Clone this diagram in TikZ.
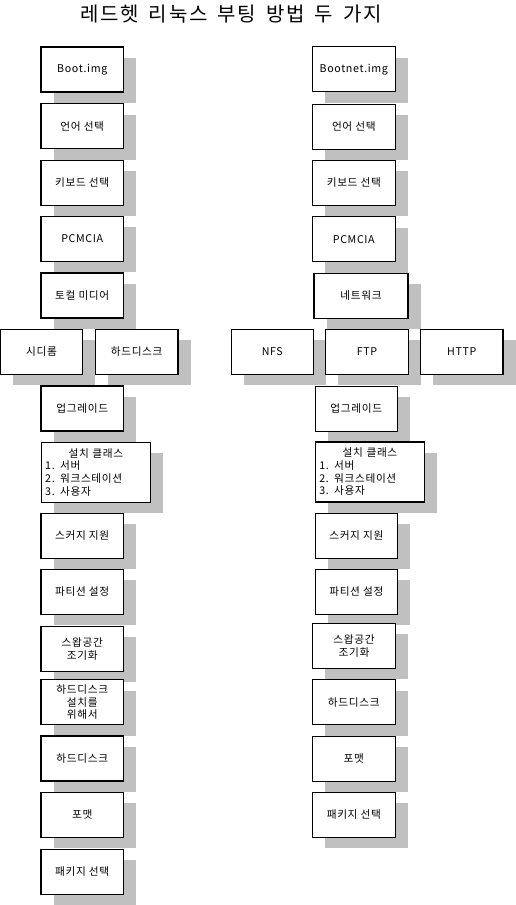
\documentclass[tikz,border=0pt]{standalone}
\usepackage{fontspec}
\usepackage{xcolor}
\usepackage{tikz}
\newfontfamily\kofont[LetterSpace=6]{Noto Sans CJK KR}
\newfontfamily\kotitle[LetterSpace=9]{Noto Sans CJK KR}
\usetikzlibrary{shadows}
\definecolor{shade}{RGB}{192,192,192}

\begin{document}
\begin{tikzpicture}[
  x=0.75pt, y=-0.75pt,
  card/.style  = {draw, line width=0.8pt, fill=white, minimum width=61.9pt, minimum height=33.75pt,
                  align=center, inner sep=1pt, font=\kofont\fontsize{8}{9.5}\selectfont,
                  drop shadow={shadow xshift=9.4pt, shadow yshift=-8.2pt, fill=shade, opacity=1}},
  wide/.style  = {card, minimum width=70.5pt},
  klass/.style = {card, minimum width=82pt, minimum height=45pt, text width=76pt, align=left},
  ttl/.style   = {font=\kotitle\fontsize{15}{18}\selectfont}
]
\useasboundingbox (0,0) rectangle (516,905);

\node[ttl] (title) at (231,14.5) {레드헷\enspace 리눅스\enspace 부팅\enspace 방법\enspace 두\enspace 가지};

% Boot.img
\node[card] (bootL)  at (82.25, 69.5)  {Boot.img};
\node[card] (langL)  at (82.25,126.3)  {언어 선택};
\node[card] (kbdL)   at (82.25,182.7)  {키보드 선택};
\node[card] (pcmL)   at (82.25,239.0)  {PCMCIA};
\node[card] (mediaL) at (82.25,295.5)  {토컬 미디어};
\node[card] (cdL)    at (41.5, 351.8)  {시디롬};
\node[card] (diskL)  at (136.7,351.8)  {하드디스크};
\node[card] (upgL)   at (82.25,408.5)  {업그레이드};
\node[klass] (clsL)  at (95.9, 472.3)  {\makebox[\hsize]{설치 클래스}\\1. 서버\\2. 워크스테이션\\3. 사용자};
\node[card] (scsiL)  at (82.25,535.8)  {스커지 지원};
\node[card] (partL)  at (82.25,591.8)  {파티션 설정};
\node[card] (swapL)  at (82.25,648.7)  {스왑공간\\조기화};
\node[card] (setL)   at (82.25,702.2)  {하드디스크\\설치를\\위해서};
\node[card] (hddL)   at (82.25,758.5)  {하드디스크};
\node[card] (fmtL)   at (82.25,814.7)  {포맷};
\node[card] (pkgL)   at (82.25,871.7)  {패키지 선택};

% Bootnet.img
\node[card] (bootR)  at (353.8, 69.3)  {Bootnet.img};
\node[card] (langR)  at (353.8,126.7)  {언어 선택};
\node[card] (kbdR)   at (353.8,182.7)  {키보드 선택};
\node[card] (pcmR)   at (353.8,239.2)  {PCMCIA};
\node[wide] (netR)   at (361.0,295.8)  {네트워크};
\node[card] (nfsR)   at (272.3,351.8)  {NFS};
\node[card] (ftpR)   at (367.0,351.8)  {FTP};
\node[card] (httpR)  at (461.7,351.8)  {HTTP};
\node[card] (upgR)   at (356.3,408.7)  {업그레이드};
\node[klass] (clsR)  at (370.0,472.0)  {\makebox[\hsize]{설치 클래스}\\1. 서버\\2. 워크스테이션\\3. 사용자};
\node[card] (scsiR)  at (356.3,536.0)  {스커지 지원};
\node[card] (partR)  at (356.3,591.8)  {파티션 설정};
\node[card] (swapR)  at (354.0,646.0)  {스왑공간\\조기화};
\node[card] (hddR)   at (353.8,702.3)  {하드디스크};
\node[card] (fmtR)   at (353.8,758.8)  {포맷};
\node[card] (pkgR)   at (353.8,814.8)  {패키지 선택};
\end{tikzpicture}
\end{document}
